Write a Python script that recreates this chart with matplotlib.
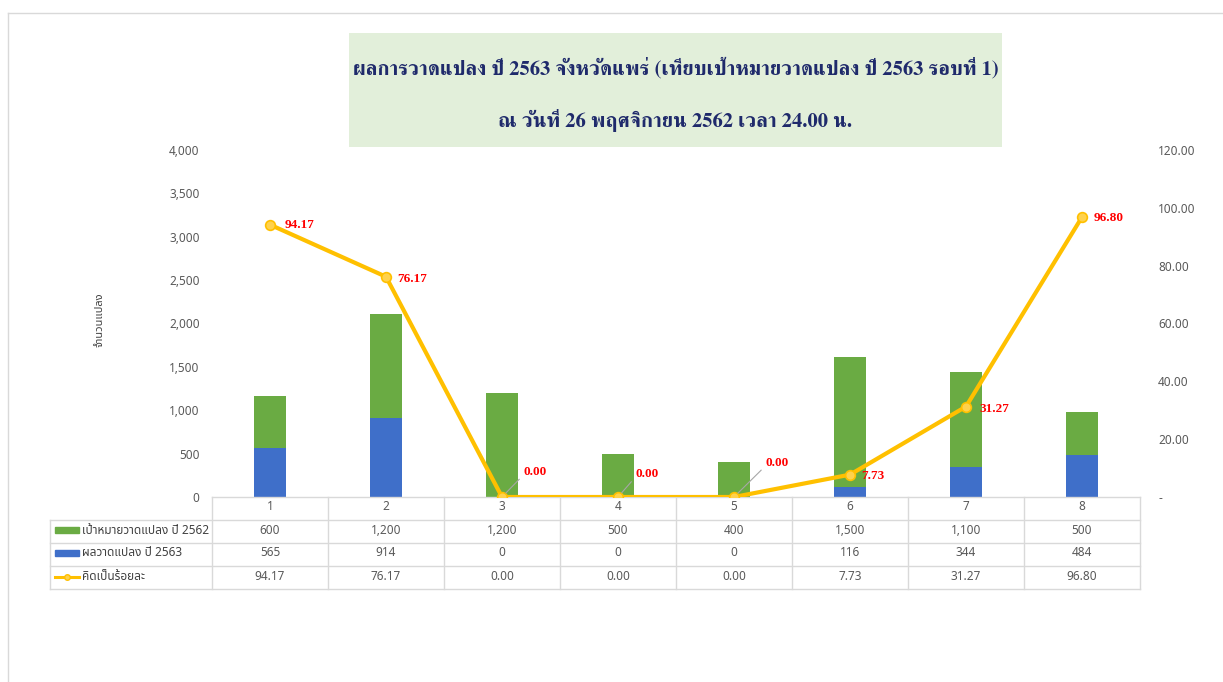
import matplotlib
matplotlib.use("Agg")
import matplotlib.pyplot as plt
import matplotlib.ticker as mticker
import matplotlib.transforms as mtransforms
from matplotlib.patches import Rectangle
from matplotlib.lines import Line2D

# ---------------- data ----------------
categories = ['1', '2', '3', '4', '5', '6', '7', '8']
target_2562 = [600, 1200, 1200, 500, 400, 1500, 1100, 500]
result_2563 = [565, 914, 0, 0, 0, 116, 344, 484]
percent = [94.17, 76.17, 0.00, 0.00, 0.00, 7.73, 31.27, 96.80]
series_names = ['เป้าหมายวาดแปลง ปี 2562', 'ผลวาดแปลง ปี 2563', 'คิดเป็นร้อยละ']
title_lines = ['ผลการวาดแปลง ปี 2563 จังหวัดแพร่ (เทียบเป้าหมายวาดแปลง ปี 2563 รอบที่ 1)',
               'ณ วันที่ 26 พฤศจิกายน 2562 เวลา 24.00 น.']
y_label = 'จำนวนแปลง'

# ---------------- style ----------------
SANS = ['Noto Sans Thai', 'DejaVu Sans']
SERIF_TH = ['FreeSerif', 'DejaVu Serif']
GREEN = '#6AAB43'
BLUE = '#3F6FC9'
GOLD = '#FFC000'
GRID = '#D9D9D9'
TXT = '#595959'

W, H = 1223, 682
fig = plt.figure(figsize=(W / 100, H / 100), dpi=100)
fig.patch.set_facecolor('white')

def fx(px):
    return px / W

def fy(py):
    return 1 - py / H

ax_l, ax_r, ax_t, ax_b = 212, 1140, 150, 497
ax = fig.add_axes([fx(ax_l), fy(ax_b), fx(ax_r - ax_l), (ax_b - ax_t) / H])
ax2 = ax.twinx()

x = list(range(1, len(categories) + 1))
bw = 0.28
ax.bar(x, result_2563, width=bw, color=BLUE, zorder=2)
ax.bar(x, target_2562, width=bw, bottom=result_2563, color=GREEN, zorder=2)

ax.set_xlim(0.5, len(categories) + 0.5)
ax.set_ylim(0, 4000)
ax.set_yticks(range(0, 4001, 500))
ax.yaxis.set_major_formatter(mticker.FuncFormatter(lambda v, p: f'{int(v):,}'))
ax.set_xticks([])
ax2.set_ylim(0, 120)
ax2.set_yticks(range(0, 121, 20))
ax2.yaxis.set_major_formatter(mticker.FuncFormatter(lambda v, p: '-' if v == 0 else f'{v:.2f}'))

for a in (ax, ax2):
    for s in a.spines.values():
        s.set_visible(False)
    a.tick_params(length=0, labelsize=8.5, labelcolor=TXT)
    for lab in a.get_yticklabels():
        lab.set_family(SANS)
ax.tick_params(axis='y', pad=9)
ax2.tick_params(axis='y', pad=13)

ax2.plot(x, percent, color=GOLD, lw=3, marker='o', markersize=7,
         markerfacecolor='#FFD24D', markeredgecolor=GOLD, markeredgewidth=1.2, zorder=5)

# data labels (pixel offsets)
label_off = [(15, 0), (11, -2), (22, 25), (18, 23), (32, 34), (11, -1), (13, -2), (12, -1)]
leader = [False, False, True, True, True, False, False, False]
for xi, p, (dx, dy), ld in zip(x, percent, label_off, leader):
    kw = {}
    if ld:
        kw['arrowprops'] = dict(arrowstyle='-', color='#A6A6A6', lw=0.8,
                                shrinkA=2, shrinkB=4, relpos=(0, 0.3))
    ax2.annotate(f'{p:.2f}', (xi, p), xytext=(dx, dy), textcoords='offset pixels',
                 ha='left', va='center', color='#FF0000', fontsize=9.5,
                 fontweight='bold', family=['Liberation Serif'], zorder=6, **kw)

# y-axis title
ax.text(-0.121, 0.51, y_label, transform=ax.transAxes, rotation=90,
        ha='center', va='center', fontsize=8, fontweight='bold', color='#404040',
        family=SANS)

# ---------------- data table ----------------
tr = mtransforms.blended_transform_factory(ax.transData, ax.transAxes)
ah = ax_b - ax_t

def ay(py):
    return (ax_b - py) / ah

left_col = (50 - ax_l) / (ax_r - ax_l)
row_lines = [497, 519.5, 542.5, 566, 589]
row_centers = [507, 530, 553, 577]

ax.add_line(Line2D([0, 1], [ay(row_lines[0])] * 2, transform=ax.transAxes,
                   color=GRID, lw=1, clip_on=False))
for py in row_lines[1:]:
    ax.add_line(Line2D([left_col, 1], [ay(py)] * 2, transform=ax.transAxes,
                       color=GRID, lw=1, clip_on=False))
for k in range(len(categories) + 1):
    ax.add_line(Line2D([k + 0.5] * 2, [ay(row_lines[0]), ay(row_lines[-1])], transform=tr,
                       color=GRID, lw=1, clip_on=False))
ax.add_line(Line2D([left_col] * 2, [ay(row_lines[1]), ay(row_lines[-1])],
                   transform=ax.transAxes, color=GRID, lw=1, clip_on=False))

for xi, c in zip(x, categories):
    ax.text(xi, ay(row_centers[0]), c, transform=tr, ha='center', va='center',
            fontsize=8.5, color=TXT, family=SANS, clip_on=False)
rows = [[f'{v:,}' for v in target_2562],
        [f'{v:,}' for v in result_2563],
        [f'{v:.2f}' for v in percent]]
for r, vals in enumerate(rows):
    for xi, v in zip(x, vals):
        ax.text(xi, ay(row_centers[r + 1]), v, transform=tr, ha='center', va='center',
                fontsize=8.5, color=TXT, family=SANS, clip_on=False)

key_x0 = (55 - ax_l) / (ax_r - ax_l)
key_x1 = (79 - ax_l) / (ax_r - ax_l)
txt_x = (82 - ax_l) / (ax_r - ax_l)
for r, col in enumerate([GREEN, BLUE]):
    yc = ay(row_centers[r + 1])
    ax.add_patch(Rectangle((key_x0, yc - 3 / ah), key_x1 - key_x0, 6 / ah,
                           transform=ax.transAxes, color=col, clip_on=False))
yc = ay(row_centers[3])
ax.add_line(Line2D([key_x0, key_x1], [yc, yc], transform=ax.transAxes, color=GOLD,
                   lw=2.2, clip_on=False))
ax.add_line(Line2D([(key_x0 + key_x1) / 2], [yc], transform=ax.transAxes, color=GOLD,
                   marker='o', markersize=4, markerfacecolor='#FFD24D', clip_on=False))
for r, name in enumerate(series_names):
    ax.text(txt_x, ay(row_centers[r + 1]), name, transform=ax.transAxes, ha='left',
            va='center', fontsize=8.5, color='#404040', family=SANS, clip_on=False)

# ---------------- title box ----------------
fig.patches.append(Rectangle((fx(349), fy(147)), fx(1002 - 349), (147 - 33) / H,
                             transform=fig.transFigure, facecolor='#E2EFDA',
                             edgecolor='none', zorder=0))
fig.text(fx(675.5), fy(68), title_lines[0], ha='center', va='center', fontsize=14.8,
         fontweight='bold', color='#1F2A6B', family=SERIF_TH)
fig.text(fx(675.5), fy(120), title_lines[1], ha='center', va='center', fontsize=14.8,
         fontweight='bold', color='#1F2A6B', family=SERIF_TH)

# outer light frame
fig.add_artist(Line2D([fx(8), 1], [fy(13), fy(13)], transform=fig.transFigure,
                      color='#D9D9D9', lw=1))
fig.add_artist(Line2D([fx(8), fx(8)], [0, fy(13)], transform=fig.transFigure,
                      color='#D9D9D9', lw=1))

fig.savefig('out.png', dpi=100)
